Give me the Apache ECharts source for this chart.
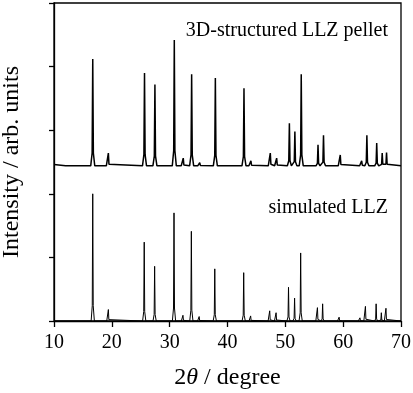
<!DOCTYPE html>
<html>
<head>
<meta charset="utf-8">
<script src="https://cdn.jsdelivr.net/npm/echarts@6/dist/echarts.min.js"></script>
<style>
html,body{margin:0;padding:0;background:#fff;}
#chart{width:413px;height:393px;}
</style>
</head>
<body>
<div id="chart"></div>
<script>
// ---- data ----
const xTicks = [10, 20, 30, 40, 50, 60, 70];
const seriesNames = ['3D-structured LLZ pellet', 'simulated LLZ'];

// measured pattern (3D-structured LLZ pellet), offset baseline
const pelletBaseline = 244;
const pelletStart = [[10, 246], [12, 244]];
const pelletPos = [16.7, 19.4, 25.65, 27.45, 30.8, 32.35, 33.8, 35.2, 37.9, 42.85, 44.05, 47.4, 48.5, 50.7, 51.65, 52.75, 55.65, 56.6, 59.5, 63.2, 64.1, 65.8, 66.75, 67.5];
const pelletInt = [168, 20, 146, 128, 198, 12, 144, 5, 138, 122, 8, 20, 12, 67, 54, 144, 33, 48, 17, 8, 48, 36, 20, 21];

// simulated pattern
const simBaseline = 0;
const simPos = [16.7, 19.4, 25.6, 27.4, 30.75, 32.3, 33.75, 35.1, 37.8, 42.8, 44.0, 47.3, 48.4, 50.55, 51.6, 52.65, 55.55, 56.45, 59.3, 60.2, 62.9, 63.85, 65.7, 66.6, 67.4];
const simInt = [200, 18, 124, 86, 170, 9, 141, 7, 82, 76, 8, 16, 13, 53, 36, 107, 21, 27, 6, 2, 5, 23, 27, 13, 20];

// ---- build line profiles from the peak lists ----
function profile(start, base, pos, inten, w) {
  const pts = start.slice();
  if (!pts.length) pts.push([xTicks[0], base]);
  pos.forEach((p, i) => {
    const h = inten[i];
    pts.push([p - w, base]);
    pts.push([p - w * 0.3, base + h * 0.12]);
    pts.push([p, base + h]);
    pts.push([p + w * 0.3, base + h * 0.12]);
    pts.push([p + w, base]);
  });
  pts.push([xTicks[xTicks.length - 1], base]);
  return pts;
}

const FONT = "'Liberation Serif','Times New Roman',serif";
const chart = echarts.init(document.getElementById('chart'), null, {renderer: 'canvas'});
chart.setOption({
  animation: false,
  backgroundColor: '#fff',
  grid: {left: 54, right: 12, top: 3, bottom: 72, containLabel: false, outerBoundsMode: 'none',
         show: true, borderColor: '#000', borderWidth: 1.3, backgroundColor: 'transparent'},
  xAxis: {
    type: 'value', min: 10, max: 70, interval: 10,
    name: '{n|2}{i|θ}{n| / degree}', nameLocation: 'middle', nameGap: 45,
    nameTextStyle: {rich: {n: {fontFamily: FONT, fontSize: 24, color: '#000'}, i: {fontFamily: FONT, fontSize: 24, fontStyle: 'italic', color: '#000'}}},
    axisLine: {lineStyle: {color: '#000', width: 1.3}},
    axisTick: {show: true, inside: false, length: 6, lineStyle: {color: '#000', width: 1.3}},
    axisLabel: {fontFamily: FONT, fontSize: 20, color: '#000', margin: 12},
    splitLine: {show: false}
  },
  yAxis: {
    type: 'value', min: 0, max: 500, interval: 100,
    name: 'Intensity / arb. units', nameLocation: 'middle', nameGap: 30,
    nameTextStyle: {fontFamily: FONT, fontSize: 24, color: '#000'},
    axisLine: {show: true, lineStyle: {color: '#000', width: 1.3}},
    axisTick: {show: true, inside: false, length: 5, lineStyle: {color: '#000', width: 1.3}},
    axisLabel: {show: false},
    splitLine: {show: false}
  },
  series: [{
    name: seriesNames[0], type: 'line', showSymbol: false, symbol: 'none',
    lineStyle: {color: '#000', width: 1.5},
    data: profile(pelletStart, pelletBaseline, pelletPos, pelletInt, 0.35),
    z: 3
  }, {
    name: seriesNames[1], type: 'line', showSymbol: false, symbol: 'none',
    lineStyle: {color: '#000', width: 1},
    data: profile([], simBaseline, simPos, simInt, 0.28),
    z: 3
  }],
  graphic: [{
    type: 'text', right: 25, top: 21,
    style: {text: seriesNames[0], font: "20px 'Liberation Serif','Times New Roman',serif", fill: '#000'}
  }, {
    type: 'text', right: 25, top: 198,
    style: {text: seriesNames[1], font: "20px 'Liberation Serif','Times New Roman',serif", fill: '#000'}
  }]
});
</script>
</body>
</html>
